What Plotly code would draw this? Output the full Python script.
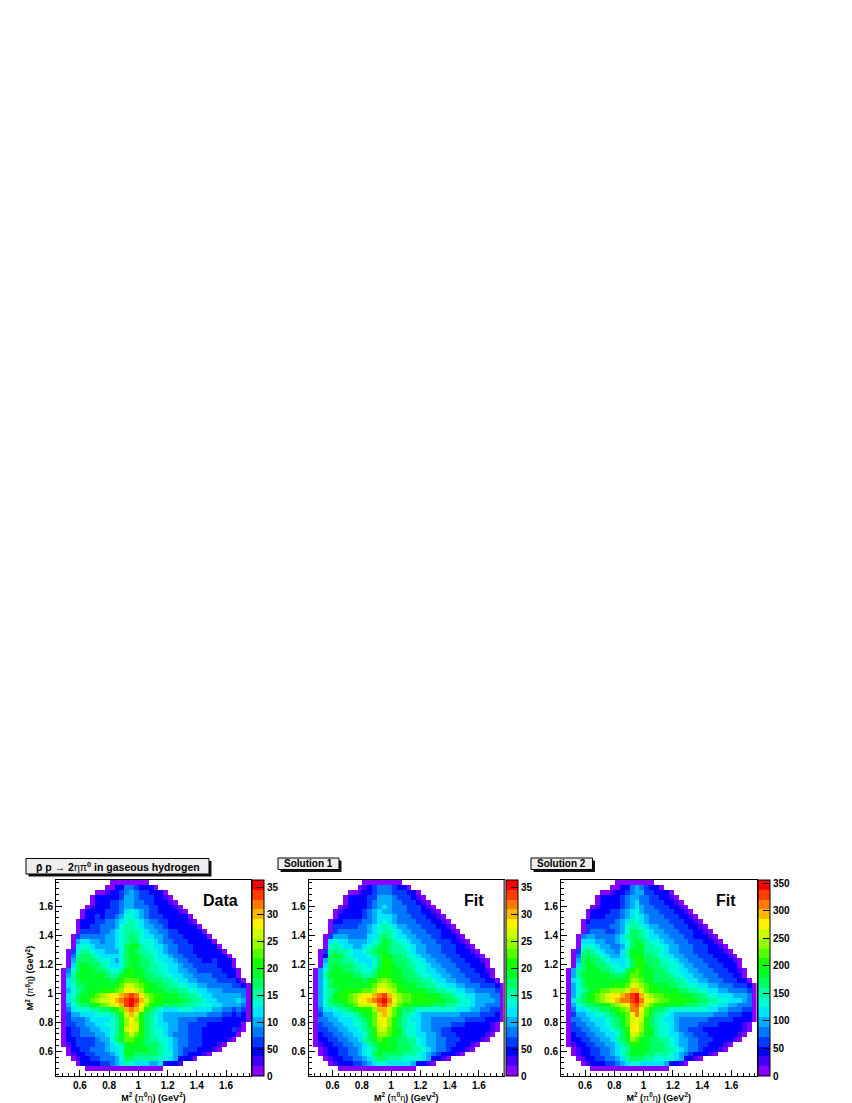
import plotly.graph_objects as go

# Colour band (1-20) read from each cell, rows listed from the top; 0 = empty bin.
data_bands = [
[0]*11+[1,1,1,1,1,1,1,1],
[0]*10+[1,1,3,3,5,5,4,3,3,3,1],
[0]*8+[1,1,2,3,3,4,5,6,5,4,4,3,3,3,1],
[0]*7+[1,3,3,3,3,3,4,6,6,5,4,4,4,3,3,2,1],
[0]*7+[1,3,3,3,4,4,5,6,6,5,5,4,4,3,3,3,2,1],
[0]*6+[1,2,3,3,3,4,4,5,6,6,5,5,5,4,4,3,3,3,2,1],
[0]*5+[1,3,3,3,3,4,4,4,5,7,8,7,6,5,4,4,3,3,3,3,2,1],
[0]*5+[1,3,3,4,3,4,4,5,6,8,8,7,6,5,4,4,4,3,3,3,3,3,1],
[0]*4+[1,3,3,3,4,4,5,5,6,7,8,9,8,7,6,5,5,4,4,3,3,3,3,2,1],
[0]*4+[1,3,3,4,4,5,5,5,6,8,9,9,8,7,6,6,5,5,4,3,3,3,3,3,3,1],
[0]*4+[1,4,4,4,4,5,5,6,7,8,9,9,9,8,7,6,6,5,5,4,4,3,3,3,3,3,1],
[0]*3+[1,4,5,5,5,5,5,6,6,7,8,9,10,9,8,7,7,6,6,5,4,4,4,3,3,3,3,3,1],
[0]*3+[1,6,7,7,6,6,5,6,6,7,8,9,10,10,8,8,8,7,6,5,5,4,4,4,3,3,3,3,3,1],
[0]*3+[1,7,8,8,7,6,6,6,6,7,8,10,11,11,9,8,8,7,7,6,5,5,4,4,4,3,3,3,3,3,1],
[0]*2+[1,4,8,9,9,8,7,7,6,6,6,8,10,11,10,9,9,8,8,7,6,5,5,4,4,4,3,3,3,3,3,3,1],
[0]*2+[1,5,9,10,10,9,8,7,7,7,7,8,10,11,11,10,9,9,8,7,7,6,5,5,4,4,4,3,3,3,3,3,3,1],
[0]*2+[1,6,10,10,10,10,9,8,8,7,6,8,10,11,11,10,10,9,8,8,7,7,6,5,5,4,4,4,3,3,4,3,3,3,1],
[0]*2+[1,7,10,11,11,10,10,9,8,7,7,8,10,11,11,10,10,9,9,8,8,7,7,6,5,5,4,4,4,4,4,3,3,3,1],
[0]*1+[1,5,8,10,11,11,11,10,10,9,8,8,9,11,12,11,11,10,9,9,8,8,7,7,6,6,5,5,4,4,4,4,4,3,3,3,1],
[0]*1+[1,6,9,11,11,11,11,11,11,10,9,9,11,12,12,11,11,10,10,9,9,8,8,7,7,6,6,5,5,5,5,4,4,4,3,3,1],
[0]*1+[1,7,9,10,11,11,11,11,11,11,10,11,12,13,13,13,12,11,10,10,10,9,9,8,7,7,6,6,5,5,5,5,4,4,4,4,3,1],
[0]*1+[1,7,8,10,10,11,11,11,11,11,11,12,13,15,15,14,13,12,11,11,10,10,9,9,8,8,7,7,6,6,5,5,5,5,5,4,4,3,1],
[0]*1+[1,6,8,9,10,11,11,11,12,12,12,13,14,16,16,15,14,12,11,11,11,10,10,10,9,9,8,8,7,7,6,6,6,5,5,5,5,5,1],
[0]*1+[1,7,8,10,11,11,12,13,14,15,16,16,17,18,19,18,16,14,13,12,12,11,11,11,10,10,9,9,8,7,7,6,6,6,6,6,6,5,1],
[0]*1+[1,7,9,10,11,11,13,14,15,15,16,17,18,19,20,19,17,15,13,12,12,11,11,11,11,10,10,9,9,8,7,7,6,6,6,6,7,6,1],
[0]*1+[1,6,8,9,10,10,11,12,13,14,15,16,17,19,20,18,16,14,12,11,11,10,10,10,10,9,9,9,8,8,8,7,7,6,6,6,6,5,1],
[0]*1+[1,5,7,8,8,8,9,9,10,10,11,12,13,17,18,17,15,12,10,9,8,7,7,7,8,8,8,7,7,7,7,6,6,5,5,4,5,4,1],
[0]*1+[1,4,6,6,7,7,7,8,8,8,9,10,12,15,17,15,12,10,9,8,7,6,6,6,6,6,6,6,6,6,5,5,5,4,4,3,4,3,1],
[0]*1+[1,4,5,5,5,6,7,7,7,7,8,9,11,14,16,14,12,10,9,8,7,6,6,6,5,5,5,5,4,4,4,4,4,3,3,3,3,3,1],
[0]*1+[1,4,4,5,5,6,6,7,7,8,8,9,11,14,16,15,12,10,9,8,7,7,6,6,5,5,4,4,4,4,3,3,3,3,3,3,3,1],
[0]*1+[1,3,4,4,5,5,6,6,7,7,8,9,11,15,16,15,12,10,9,8,8,7,6,6,5,5,4,4,4,3,3,3,3,3,3,4,2,1],
[0]*1+[1,3,4,4,5,5,5,6,6,7,8,9,11,13,15,13,12,10,9,8,8,7,6,5,5,5,4,4,4,3,3,3,3,3,3,3,1],
[0]*1+[1,3,3,4,4,4,4,5,6,6,8,10,11,13,13,12,11,10,9,9,8,8,7,6,5,5,4,4,4,3,3,3,3,3,2,1],
[0]*1+[1,2,3,4,4,4,4,5,5,6,7,8,9,11,12,11,11,10,10,10,9,8,7,6,5,5,4,4,4,3,3,3,2,1],
[0]*2+[1,3,3,4,4,5,5,5,6,7,7,8,11,11,11,11,11,10,10,9,8,7,6,5,4,4,4,3,3,3,2,1],
[0]*2+[1,2,3,3,4,4,5,5,5,6,7,8,11,11,10,10,10,10,10,9,8,8,6,5,4,3,3,3,2,1],
[0]*3+[1,2,3,3,4,4,5,5,5,6,8,10,10,9,9,9,9,9,8,8,7,6,3,3,3,1],
[0]*4+[1,3,3,3,3,4,4,5,6,7,9,8,7,7,7,6,6,7,3,3,3,2],
[0]*6+[1,1,1,1,1,1,1,1,1,1,1,1,1,1,1,1],
[],
]

fit1_bands = [
[0]*11+[1,1,1,1,1,1,1,1],
[0]*10+[1,2,3,4,5,5,5,4,3,3,1],
[0]*8+[1,1,2,3,3,4,5,5,5,4,4,4,3,3,1],
[0]*7+[1,3,3,3,3,4,4,6,6,6,5,4,4,4,3,2,1],
[0]*7+[1,3,3,3,3,4,5,6,6,6,5,5,4,4,4,3,2,1],
[0]*6+[1,2,3,3,3,3,4,5,6,7,6,5,5,5,4,4,4,3,2,1],
[0]*5+[1,2,3,3,3,3,4,5,6,7,6,6,5,5,5,4,4,4,3,3,2,1],
[0]*5+[1,3,3,3,3,3,4,5,6,7,7,7,6,5,5,5,4,4,4,3,3,2,1],
[0]*4+[1,3,3,4,4,4,4,5,5,6,7,8,7,6,5,5,5,5,4,4,4,3,3,2,1],
[0]*4+[1,4,4,4,4,4,5,5,6,7,8,9,8,7,6,6,5,5,5,4,4,4,3,3,2,1],
[0]*4+[1,4,5,5,5,5,5,5,6,7,8,9,9,8,7,6,6,5,5,5,4,4,4,3,3,2,1],
[0]*3+[1,4,6,6,6,5,5,5,5,7,7,9,10,9,8,7,7,6,6,5,5,5,4,4,3,3,3,2,1],
[0]*3+[1,7,8,7,7,6,6,6,6,7,8,9,11,10,9,8,8,7,6,6,5,5,5,4,4,4,3,3,2,1],
[0]*3+[1,8,9,8,7,7,6,6,7,8,9,10,11,10,9,9,8,8,7,6,6,5,5,5,4,4,4,3,3,2,1],
[0]*2+[1,4,9,10,9,9,8,7,7,8,9,10,11,11,10,9,9,9,8,7,6,6,5,5,5,4,4,4,3,3,3,2,1],
[0]*2+[1,3,10,11,10,9,8,7,7,7,8,9,10,12,11,10,10,9,8,8,7,6,6,5,5,5,4,4,4,3,3,3,2,1],
[0]*2+[1,6,10,10,10,9,9,8,7,7,7,8,10,12,12,10,10,10,9,8,8,7,6,6,5,5,5,4,4,4,3,3,3,2,1],
[0]*2+[1,7,10,11,10,10,10,9,8,8,7,8,10,12,12,11,10,10,9,9,8,8,7,6,6,5,5,5,4,4,4,3,3,3,1],
[0]*1+[1,6,8,10,11,11,10,10,9,9,8,8,9,11,12,12,11,11,10,10,9,8,8,7,7,6,6,5,5,5,4,4,4,3,3,2,1],
[0]*1+[1,6,9,11,11,11,11,11,10,10,9,9,10,12,12,12,11,11,10,10,10,9,8,8,7,7,6,6,5,5,5,4,4,4,3,3,1],
[0]*1+[1,6,8,10,11,11,11,11,11,11,10,11,12,13,14,13,12,11,11,10,10,10,9,9,8,7,7,6,6,5,5,5,4,4,4,3,3,1],
[0]*1+[1,6,8,10,11,11,11,11,11,11,11,12,13,15,15,14,13,12,11,11,11,10,10,9,9,8,8,7,7,6,6,5,5,5,4,4,4,3,1],
[0]*1+[1,6,8,9,10,11,12,12,12,12,13,13,14,16,16,15,14,12,12,11,11,11,11,10,10,9,9,8,8,7,7,6,6,5,5,5,5,4,1],
[0]*1+[1,6,8,9,11,12,12,13,14,15,16,16,17,18,19,17,15,14,13,13,12,12,12,11,11,11,10,10,9,8,8,7,7,6,6,6,5,5,1],
[0]*1+[1,6,8,10,11,11,12,13,14,16,16,17,18,19,20,18,16,14,13,13,12,12,12,12,12,11,11,10,10,9,8,8,7,6,6,6,6,5,1],
[0]*1+[1,6,8,9,10,10,11,12,13,15,15,15,16,18,19,17,15,13,12,12,11,11,11,11,10,10,10,9,9,8,8,8,7,6,6,5,5,5,1],
[0]*1+[1,5,7,7,8,9,9,10,11,12,12,12,14,17,17,15,13,11,10,10,9,8,8,8,8,8,8,8,8,7,7,7,6,6,5,5,4,4,1],
[0]*1+[1,4,6,6,7,7,8,8,9,10,11,12,13,15,17,15,13,11,9,9,8,7,6,6,6,6,6,6,6,6,5,5,5,5,4,4,4,3,1],
[0]*1+[1,5,5,6,6,7,7,7,8,9,10,11,13,16,16,14,12,10,9,8,7,7,6,6,5,5,5,5,5,5,5,4,4,4,4,3,3,3,1],
[0]*1+[1,4,5,5,6,6,7,7,8,8,9,11,13,15,16,14,12,10,9,8,8,7,6,6,5,5,5,5,4,4,4,3,3,3,3,3,2,1],
[0]*1+[1,4,4,5,5,6,6,7,7,8,9,10,12,15,15,13,12,11,9,8,8,7,6,6,5,5,4,4,3,3,3,3,3,3,3,3,2,1],
[0]*1+[1,3,4,4,5,5,6,6,7,7,8,10,12,14,14,13,11,11,9,8,8,7,7,6,6,5,4,4,4,3,3,3,3,3,3,2,1],
[0]*1+[1,3,3,4,4,5,5,6,6,7,9,10,11,13,12,11,11,10,10,9,9,8,7,6,6,5,5,4,4,4,3,3,3,3,2,1],
[0]*1+[1,2,3,3,4,4,5,5,6,6,7,9,10,11,12,11,11,10,10,10,9,8,7,6,6,5,5,4,4,3,3,3,2,1],
[0]*2+[1,2,3,3,4,4,5,5,6,7,8,9,11,11,11,11,10,10,10,9,9,8,7,6,5,5,4,3,3,3,2,1],
[0]*2+[1,2,3,3,4,4,5,5,6,7,8,10,11,10,10,10,10,9,9,9,8,7,6,5,4,3,3,3,2,1],
[0]*3+[1,2,3,3,4,4,5,5,6,7,9,10,10,9,9,9,8,8,8,8,7,6,3,3,2,1],
[0]*4+[1,2,3,3,3,4,4,5,6,7,8,8,7,7,7,7,7,6,3,3,2,1],
[0]*6+[1,1,1,1,1,1,1,1,1,1,1,1,1,1,1,1],
[],
]

fit2_bands = [
[0]*11+[1,1,1,1,1,1,1,1],
[0]*10+[1,1,3,3,5,6,5,4,3,3,1],
[0]*8+[1,1,2,3,3,4,5,6,6,4,4,3,3,3,1],
[0]*7+[1,3,3,3,3,4,5,6,6,5,5,4,4,3,3,2,1],
[0]*7+[1,3,3,3,3,4,5,6,7,5,5,4,4,4,3,3,2,1],
[0]*6+[1,2,3,3,3,3,4,5,6,7,6,5,5,4,4,4,3,3,2,1],
[0]*5+[1,3,3,3,3,4,4,5,6,7,8,6,5,5,5,4,4,4,3,3,2,1],
[0]*5+[1,3,3,3,4,4,4,5,6,7,8,7,6,5,5,5,4,4,4,3,3,2,1],
[0]*4+[1,3,4,4,4,4,4,5,6,7,9,8,7,6,5,5,5,5,4,4,4,3,3,2,1],
[0]*4+[1,4,4,4,4,4,5,5,6,8,9,9,8,7,6,6,5,5,5,4,4,4,3,3,2,1],
[0]*4+[1,4,5,5,5,4,4,5,6,8,10,10,9,8,7,6,6,5,5,5,4,4,4,3,3,2,1],
[0]*3+[1,5,6,6,5,5,5,5,6,7,9,10,10,9,8,7,7,6,6,5,5,5,4,4,3,3,3,2,1],
[0]*3+[1,7,7,7,6,6,5,5,6,7,8,10,11,10,9,8,8,7,6,6,5,5,5,4,4,4,3,3,2,1],
[0]*3+[1,8,8,8,7,6,6,5,5,6,8,10,11,11,9,9,8,8,7,6,6,5,5,5,4,4,4,3,3,2,1],
[0]*2+[1,4,9,10,9,8,7,6,6,5,7,9,11,11,11,9,9,9,8,7,6,6,5,5,5,4,4,4,3,3,3,2,1],
[0]*2+[1,5,10,10,10,9,8,7,6,6,7,9,11,12,11,10,10,9,8,8,7,6,6,5,5,5,4,4,4,3,3,3,2,1],
[0]*2+[1,6,10,11,10,10,9,8,7,7,7,8,10,12,12,10,10,10,9,8,8,7,6,6,5,5,5,4,4,4,3,3,3,2,1],
[0]*2+[1,7,10,11,11,10,10,9,8,8,7,8,10,12,12,11,10,10,9,9,8,8,7,6,6,5,5,5,4,4,4,3,3,3,1],
[0]*1+[1,6,9,10,11,11,11,10,10,9,8,8,10,12,13,12,11,11,10,10,9,8,8,7,7,6,6,5,5,5,4,4,4,3,3,2,1],
[0]*1+[1,6,9,11,11,11,11,11,11,10,10,10,11,13,13,12,11,11,10,10,10,9,8,8,7,7,6,6,5,5,5,4,4,4,3,3,1],
[0]*1+[1,7,8,10,11,11,11,11,11,11,11,11,12,14,14,13,11,11,10,10,10,10,9,9,8,7,7,6,6,5,5,5,4,4,4,3,3,1],
[0]*1+[1,6,8,10,11,11,11,11,11,12,12,12,13,15,15,14,13,12,11,11,11,10,10,9,9,8,8,7,7,6,6,5,5,5,4,4,4,3,1],
[0]*1+[1,6,8,9,10,11,12,13,13,14,14,14,15,17,17,15,13,12,12,11,11,11,11,10,10,9,9,8,8,7,7,6,6,5,5,5,5,4,1],
[0]*1+[1,6,8,10,11,12,13,14,15,16,16,17,18,19,20,17,15,14,13,13,12,12,12,11,11,11,10,10,9,8,8,7,7,7,6,6,6,5,1],
[0]*1+[1,7,9,10,11,12,13,14,15,16,17,18,18,19,20,18,16,15,14,13,13,12,12,12,12,11,11,10,10,9,9,8,8,7,7,7,6,5,1],
[0]*1+[1,6,8,9,10,10,11,11,12,13,14,15,16,18,19,17,15,13,12,12,11,11,11,11,10,10,10,9,9,8,8,7,7,6,6,5,5,5,1],
[0]*1+[1,5,7,7,8,9,9,10,10,11,12,13,14,18,18,16,13,11,10,10,9,8,8,8,8,8,8,8,8,7,7,6,6,5,5,5,4,4,1],
[0]*1+[1,4,6,6,7,7,8,8,9,10,11,12,13,16,18,15,13,11,9,9,8,7,6,6,6,6,6,6,6,6,5,5,5,4,4,4,3,3,1],
[0]*1+[1,5,5,6,6,7,7,7,8,9,10,11,13,15,16,15,12,10,9,8,7,7,6,5,5,5,5,5,5,4,4,4,4,4,3,3,3,3,1],
[0]*1+[1,4,5,5,6,6,7,7,8,9,10,11,13,16,16,14,12,10,9,8,8,7,6,5,5,5,5,4,4,4,4,3,3,3,3,3,2,1],
[0]*1+[1,4,4,5,5,6,6,7,7,8,9,10,12,16,16,14,12,11,9,8,8,7,6,5,5,4,4,4,3,3,3,3,3,3,3,3,2,1],
[0]*1+[1,3,4,4,5,5,6,6,7,7,8,10,12,15,15,13,11,11,9,8,8,7,7,6,5,5,4,4,4,3,3,3,3,3,3,2,1],
[0]*1+[1,3,3,4,4,5,5,6,6,7,9,10,11,14,13,11,11,10,10,9,9,8,7,6,6,5,5,4,4,4,3,3,3,3,2,1],
[0]*1+[1,2,3,3,4,4,5,5,6,6,7,9,10,12,12,11,11,10,10,10,9,8,7,6,6,5,5,4,4,3,3,3,2,1],
[0]*2+[1,2,3,3,4,4,5,5,6,7,8,9,11,11,11,11,10,10,10,9,9,8,7,6,5,5,4,3,3,3,2,1],
[0]*2+[1,2,3,3,4,4,5,5,6,7,8,10,11,11,11,10,10,9,9,9,8,7,6,5,4,3,3,3,2,1],
[0]*3+[1,2,3,3,4,4,5,5,6,7,9,10,10,10,9,9,8,8,8,8,7,6,3,3,2,1],
[0]*4+[1,2,3,3,3,4,4,5,6,7,8,8,7,7,7,7,7,6,3,3,2,1],
[0]*6+[1,1,1,1,1,1,1,1,1,1,1,1,1,1,1,1],
[],
]

band_hues = [272,256,240,226,212,199,186,170,157,143,129,115,100,86,72,57,43,29,14,0]
panel_max = [36.4, 36.4, 356]
cbar_tickvals = [[0,5,10,15,20,25,30,35],[0,5,10,15,20,25,30,35],[0,50,100,150,200,250,300,350]]
cbar_ticktext = [["0","50","10","15","20","25","30","35"],["0","50","10","15","20","25","30","35"],
                 ["0","50","100","150","200","250","300","350"]]
panel_labels = ["Data", "Fit", "Fit"]
axis_label = "<b>M<sup>2</sup> (</b>π<b><sup>0</sup></b>η<b>) (GeV<sup>2</sup>)</b>"

W, H = 852, 1103
LEFTS = [56, 308.5, 561]
RIGHTS = [251, 504, 756.5]
TOP, BOTTOM = 880, 1076
XR = [0.436, 1.771]
YR = [0.43, 1.779]
NB = 40
BOLD = dict(family="Liberation Sans", color="black", weight="bold")
PLAIN = dict(family="Liberation Sans", color="black")

def to_z(rows, zmax):
    step = zmax / len(band_hues)
    out = []
    for row in reversed(rows):
        full = row + [0] * (NB - len(row))
        out.append([None if b == 0 else (b - 0.5) * step for b in full])
    return out

colorscale = []
for i, h in enumerate(band_hues):
    c = f"hsl({h},100%,50%)"
    colorscale += [[i / 20, c], [(i + 1) / 20, c]]

def px(x):
    return x / W
def py(y):
    return 1 - y / H

fig = go.Figure()
matrices = [data_bands, fit1_bands, fit2_bands]
for i, rows in enumerate(matrices):
    suf = "" if i == 0 else str(i + 1)
    fig.add_trace(go.Heatmap(
        z=to_z(rows, panel_max[i]),
        x0=XR[0] + (XR[1] - XR[0]) / NB / 2, dx=(XR[1] - XR[0]) / NB,
        y0=YR[0] + (YR[1] - YR[0]) / NB / 2, dy=(YR[1] - YR[0]) / NB,
        xaxis="x" + suf, yaxis="y" + suf,
        zmin=0, zmax=panel_max[i], colorscale=colorscale, hoverongaps=False,
        colorbar=dict(
            x=px(RIGHTS[i] + 1.5), xanchor="left", xref="paper",
            y=py(TOP), yanchor="top", yref="paper",
            len=(BOTTOM - TOP) / H, lenmode="fraction", thickness=12, thicknessmode="pixels",
            xpad=0, ypad=0, outlinecolor="black", outlinewidth=1,
            tickmode="array", tickvals=cbar_tickvals[i], ticktext=cbar_ticktext[i],
            ticks="inside", ticklen=7, tickwidth=1, tickcolor="black",
            tickfont=dict(size=10, **BOLD),
        ),
    ))
    axis_common = dict(
        showline=True, linecolor="black", linewidth=1, mirror=True, showgrid=False, zeroline=False,
        ticks="inside", ticklen=6, tickwidth=1, tickcolor="black",
        tick0=0.2, dtick=0.2, tickfont=dict(size=10, **BOLD),
        minor=dict(ticks="inside", ticklen=3, tickwidth=1, tickcolor="black", dtick=0.04, tick0=0.2, showgrid=False),
    )
    fig.update_layout({
        "xaxis" + suf: dict(
            domain=[px(LEFTS[i]), px(RIGHTS[i])], range=XR, anchor="y" + suf,
            title=dict(text=axis_label, font=dict(size=9, **PLAIN), standoff=0),
            **axis_common),
        "yaxis" + suf: dict(
            domain=[py(BOTTOM), py(TOP)], range=YR, anchor="x" + suf,
            title=dict(text=axis_label if i == 0 else "", font=dict(size=9, **PLAIN), standoff=3),
            **axis_common),
    })
    fig.add_annotation(text=panel_labels[i], xref="paper", yref="paper",
                       x=px(LEFTS[i] + [164, 165, 165][i]), y=py(900.5), showarrow=False,
                       xanchor="center", yanchor="middle", font=dict(size=16, **BOLD))

box_specs = [
    (26, 858.5, 209, 874, "<b>p\u0304 p</b> → <b>2</b>ηπ<b><sup>0</sup> in gaseous hydrogen</b>", 10.5, 117.5, 866),
    (278, 858, 339, 869.5, "<b>Solution 1</b>", 10, 308.5, 863.5),
    (531, 858, 592.5, 869.5, "<b>Solution 2</b>", 10, 561.75, 863.5),
]
shapes = []
for x0, y0, x1, y1, label, size, tx, ty in box_specs:
    shapes.append(dict(type="rect", xref="paper", yref="paper", x0=px(x0 + 2.5), x1=px(x1 + 2.5),
                       y0=py(y0 + 2.5), y1=py(y1 + 2.5), fillcolor="#111111", line=dict(width=0), layer="above"))
    shapes.append(dict(type="rect", xref="paper", yref="paper", x0=px(x0), x1=px(x1), y0=py(y0), y1=py(y1),
                       fillcolor="#eeeeee", line=dict(color="black", width=1), layer="above"))
    fig.add_annotation(text=label, xref="paper", yref="paper", x=px(tx), y=py(ty),
                       showarrow=False, xanchor="center", yanchor="middle", font=dict(size=size, **PLAIN))
shapes.append(dict(type="line", xref="paper", yref="paper", x0=px(504), x1=px(504), y0=py(TOP), y1=py(BOTTOM),
                   line=dict(color="#777777", width=1.5), layer="above"))

fig.update_layout(
    width=W, height=H, margin=dict(l=0, r=0, t=0, b=0, pad=0),
    paper_bgcolor="white", plot_bgcolor="white", showlegend=False,
    font=dict(family="Liberation Sans", color="black"), shapes=shapes,
)
fig.write_html("out.html", config={"displayModeBar": False},
               post_script="document.body.style.margin='0';")
